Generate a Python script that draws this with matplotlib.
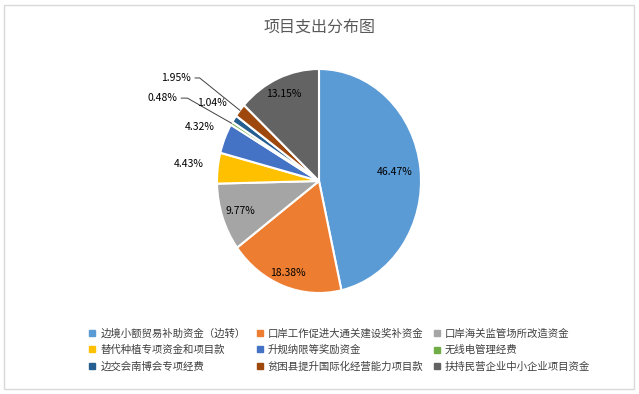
import numpy as np
import matplotlib
matplotlib.use('Agg')
import matplotlib.pyplot as plt
from matplotlib.lines import Line2D
from matplotlib.patches import Rectangle

plt.rcParams['font.family'] = ['Noto Sans CJK SC', 'DejaVu Sans']

title = '项目支出分布图'
categories = ['边境小额贸易补助资金（边转）', '口岸工作促进大通关建设奖补资金', '口岸海关监管场所改造资金',
              '替代种植专项资金和项目款', '升规纳限等奖励资金', '无线电管理经费',
              '边交会南博会专项经费', '贫困县提升国际化经营能力项目款', '扶持民营企业中小企业项目资金']
shares = [46.47, 18.38, 9.77, 4.43, 4.32, 0.48, 1.04, 1.95, 13.15]
colors = ['#5B9BD5', '#ED7D31', '#A5A5A5', '#FFC000', '#4472C4', '#70AD47', '#255E91', '#9E480E', '#636363']

W, H = 639, 394
fig = plt.figure(figsize=(W / 100, H / 100), dpi=100)
fig.patches.append(Rectangle((4 / W, 5 / H), 630 / W, 384 / H, transform=fig.transFigure,
                             fill=False, edgecolor='#d9d9d9', linewidth=1))
fig.text(0.5, 1 - 27 / H, title, ha='center', va='center', fontsize=11.5, color='#595959')

# pie is slightly taller than wide, centre (319,181) px, radii 102 x 112 px
cx, cy, rx, ry = 319, 181, 102, 112
ax = fig.add_axes([(cx - rx) / W, (H - cy - ry) / H, 2 * rx / W, 2 * ry / H])
wedges, _ = ax.pie(shares, colors=colors, startangle=90, counterclock=False,
                   wedgeprops=dict(edgecolor='white', linewidth=1.5))
ax.set_aspect('auto')
ax.set_xlim(-1, 1)
ax.set_ylim(-1, 1)

# label placement: radius along the slice middle (None = leader line label)
label_r = [0.75, 0.88, 0.82, 1.29, 1.26, None, 1.26, None, 0.85]
leader_pos = {5: (-1.39, 0.74, -1.29), 7: (-1.255, 0.92, -1.17)}
for i, w in enumerate(wedges):
    mid = np.deg2rad((w.theta1 + w.theta2) / 2)
    txt = f'{shares[i]:.2f}%'
    if label_r[i] is not None:
        r = label_r[i]
        ax.text(r * np.cos(mid), r * np.sin(mid), txt, ha='center', va='center', fontsize=7.5)
    else:
        lx, ly, kx = leader_pos[i]
        ax.text(lx, ly, txt, ha='right', va='center', fontsize=7.5)
        ax.plot([lx + 0.04, kx, np.cos(mid)], [ly, ly, np.sin(mid)], color='#404040',
                linewidth=0.7, clip_on=False)

handles = [Line2D([], [], marker='s', linestyle='', markersize=5, color=c) for c in colors]
order = [0, 3, 6, 1, 4, 7, 2, 5, 8]
leg = fig.legend([handles[i] for i in order], [categories[i] for i in order], ncol=3,
                 loc='center', bbox_to_anchor=(0.5 + 20 / W, 1 - 350 / H), frameon=False,
                 fontsize=7.5, handlelength=0.7, handletextpad=0.4, columnspacing=1.0,
                 labelspacing=0.62, labelcolor='#404040')

fig.savefig('out.png', dpi=100, facecolor='white')
